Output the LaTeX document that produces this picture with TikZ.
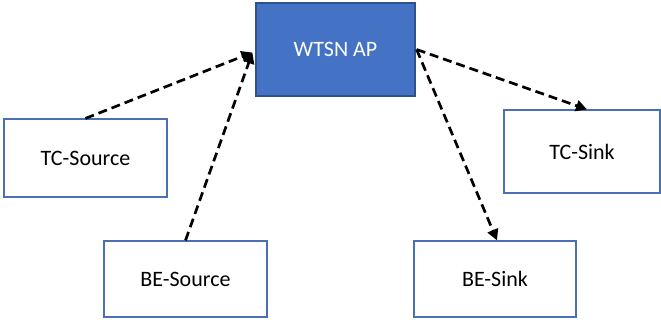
\documentclass[tikz,border=0pt]{standalone}
\usepackage{fontspec}
\setmainfont{Carlito}
\usetikzlibrary{arrows.meta,calc}
\definecolor{apfill}{HTML}{4472C4}
\definecolor{apedge}{HTML}{2F528F}
\definecolor{boxedge}{HTML}{4A6FB5}
\begin{document}
\begin{tikzpicture}[x=1pt,y=-1pt,
  box/.style={draw=boxedge,line width=1.2pt,fill=white,inner sep=0pt,
    font=\fontsize{22}{26}\selectfont,text=black},
  apbox/.style={draw=apedge,line width=1.2pt,fill=apfill,inner sep=0pt,
    font=\fontsize{22}{26}\selectfont,text=white},
  link/.style={line width=2.7pt,dash pattern=on 9pt off 5pt,
    -{Triangle[length=11pt,width=11pt]}}]
  \useasboundingbox (0,0) rectangle (661,326);
  % access point and stations
  \node[apbox,minimum width=159pt,minimum height=93pt] (ap) at (335.5,49.5) {WTSN AP};
  \node[box,minimum width=163pt,minimum height=78pt] (tcsrc) at (85.5,158) {TC-Source};
  \node[box,minimum width=163pt,minimum height=76pt] (besrc) at (185.5,279) {BE-Source};
  \node[box,minimum width=162pt,minimum height=76pt] (besink) at (495,279) {BE-Sink};
  \node[box,minimum width=156pt,minimum height=83pt] (tcsink) at (582,151.5) {TC-Sink};
  % traffic flows
  \coordinate (apin) at ([xshift=-3pt,yshift=-3pt]ap.west);
  \coordinate (apout) at ([xshift=1pt]ap.east);
  \draw[link] (tcsrc.north) -- (apin);
  \draw[link] (besrc.north) -- (apin);
  \draw[link] (apout) -- ([xshift=5pt]tcsink.north);
  \draw[link] (apout) -- ([xshift=2pt]besink.north);
\end{tikzpicture}
\end{document}
